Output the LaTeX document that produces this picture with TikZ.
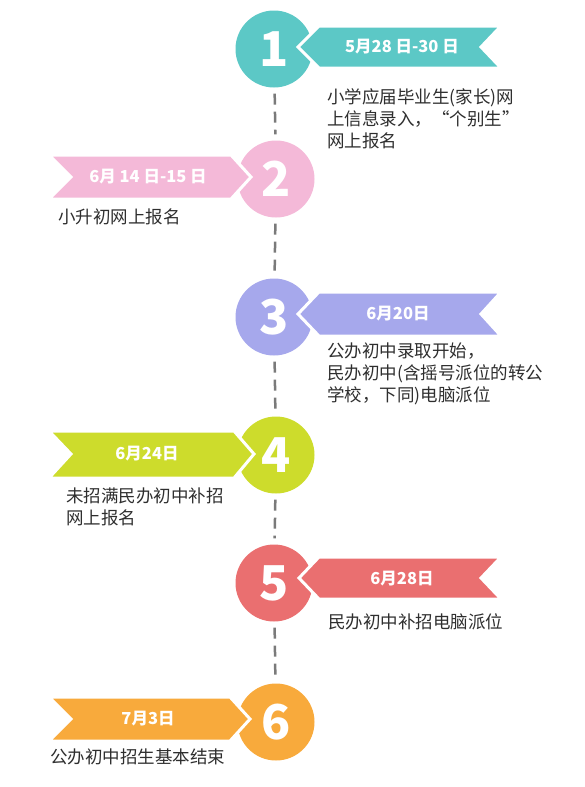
\documentclass[tikz,border=0pt]{standalone}
\usepackage{fontspec}
\setmainfont{Noto Sans CJK SC}
\usetikzlibrary{positioning}

\definecolor{stepteal}{HTML}{5CC8C6}
\definecolor{steppink}{HTML}{F4B9D8}
\definecolor{steplilac}{HTML}{A6A8EC}
\definecolor{steplime}{HTML}{CDDC2C}
\definecolor{stepred}{HTML}{EA6F70}
\definecolor{steporange}{HTML}{F8AA3C}
\definecolor{textgray}{HTML}{2E2E2E}
\definecolor{linegray}{HTML}{7A7A7A}

\tikzset{
  numcircle/.style={circle, minimum size=77pt, inner sep=0pt, text=white,
    font=\fontsize{48}{48}\selectfont\bfseries},
  ribbon/.style={draw=white, line width=3pt, line join=miter},
  datetext/.style={text=white, inner sep=0pt, font=\fontsize{16.5}{17}\selectfont\bfseries},
  desctext/.style={text=textgray, inner sep=0pt, anchor=north west, align=left,
    font=\fontsize{17.5}{22}\selectfont},
  dashline/.style={draw=linegray, line width=2.5pt, dash pattern=on 11pt off 7pt,
    shorten <=6pt, shorten >=6pt},
}

\begin{document}
\begin{tikzpicture}[x=1pt, y=-1pt]
    \useasboundingbox (0,0) rectangle (585,787);

    % Circles
    \node[numcircle, fill=stepteal]   (c1) at (274,49)  {1};
    \node[numcircle, fill=steppink]   (c2) at (276,179) {2};
    \node[numcircle, fill=steplilac]  (c3) at (274,317) {3};
    \node[numcircle, fill=steplime]   (c4) at (276,455) {4};
    \node[numcircle, fill=stepred]    (c5) at (274,583) {5};
    \node[numcircle, fill=steporange] (c6) at (276,722) {6};

    % Timeline
    \draw[dashline] (c1) -- (c2);
    \draw[dashline] (c2) -- (c3);
    \draw[dashline] (c3) -- (c4);
    \draw[dashline] (c4) -- (c5);
    \draw[dashline] (c5) -- (c6);

    % Step 1
    \filldraw[ribbon, fill=stepteal] (298,47) -- (319,26) -- (501,26) -- (481,47) -- (501,68) -- (319,68) -- cycle;
    \node[datetext] (d1) at (402,47) {5月28 日-30 日};
    \node[desctext] (t1) at (327,88) {小学应届毕业生(家长)网\\上信息录入，“个别生”\\网上报名};

    % Step 2
    \filldraw[ribbon, fill=steppink] (49,155) -- (231,155) -- (251,177) -- (231,199) -- (49,199) -- (71,177) -- cycle;
    \node[datetext] (d2) at (148,177) {6月 14 日-15 日};
    \node[desctext] (t2) at (58,209) {小升初网上报名};

    % Step 3
    \filldraw[ribbon, fill=steplilac] (298,314) -- (319,292) -- (501,292) -- (481,314) -- (501,336) -- (319,336) -- cycle;
    \node[datetext] (d3) at (398,314) {6月20日};
    \node[desctext] (t3) at (327,343) {公办初中录取开始，\\民办初中(含摇号派位的转公\\学校，下同)电脑派位};

    % Step 4
    \filldraw[ribbon, fill=steplime] (49,431) -- (234,431) -- (254,454) -- (234,478) -- (49,478) -- (71,454) -- cycle;
    \node[datetext] (d4) at (147,454) {6月24日};
    \node[desctext] (t4) at (66,488) {未招满民办初中补招\\网上报名};

    % Step 5
    \filldraw[ribbon, fill=stepred] (299,578) -- (319,557) -- (501,557) -- (481,578) -- (501,599) -- (319,599) -- cycle;
    \node[datetext] (d5) at (402,579) {6月28日};
    \node[desctext] (t5) at (328,613) {民办初中补招电脑派位};

    % Step 6
    \filldraw[ribbon, fill=steporange] (49,697) -- (230,697) -- (250,719) -- (230,741) -- (49,741) -- (71,719) -- cycle;
    \node[datetext] (d6) at (148,719) {7月3日};
    \node[desctext] (t6) at (50,749) {公办初中招生基本结束};
\end{tikzpicture}
\end{document}
